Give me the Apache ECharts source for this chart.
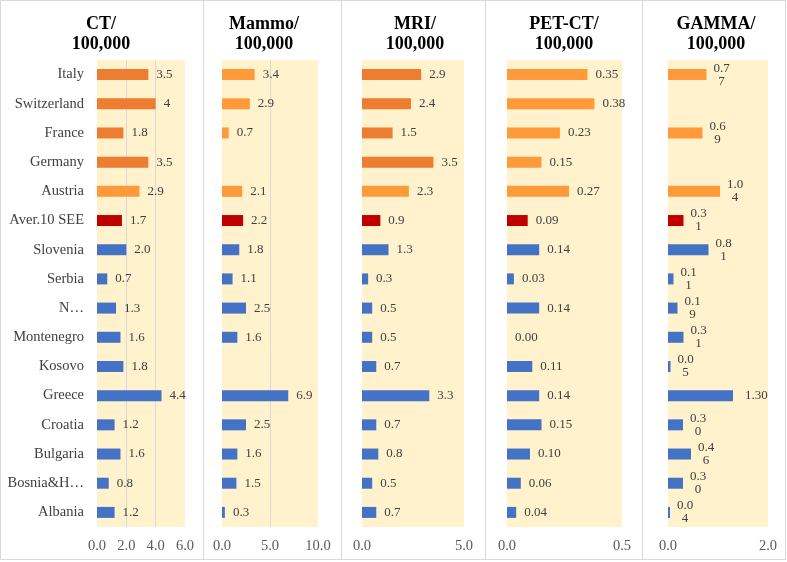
<!DOCTYPE html>
<html>
<head>
<meta charset="utf-8">
<title>Imaging equipment per 100,000</title>
<script src="https://cdn.jsdelivr.net/npm/echarts@6/dist/echarts.min.js"></script>
<style>
  html, body { margin: 0; padding: 0; background: #fff; }
  #chart { width: 787px; height: 562px; }
</style>
</head>
<body>
<div id="chart"></div>
<script>
const categories = ['Italy', 'Switzerland', 'France', 'Germany', 'Austria', 'Aver.10 SEE', 'Slovenia', 'Serbia',
    'N…', 'Montenegro', 'Kosovo', 'Greece', 'Croatia', 'Bulgaria', 'Bosnia&H…', 'Albania'];

const ctValues = [3.5, 4, 1.8, 3.5, 2.9, 1.7, 2.0, 0.7, 1.3, 1.6, 1.8, 4.4, 1.2, 1.6, 0.8, 1.2];
const ctLabels = ['3.5', '4', '1.8', '3.5', '2.9', '1.7', '2.0', '0.7', '1.3', '1.6', '1.8', '4.4', '1.2', '1.6', '0.8', '1.2'];

const mammoValues = [3.4, 2.9, 0.7, null, 2.1, 2.2, 1.8, 1.1, 2.5, 1.6, null, 6.9, 2.5, 1.6, 1.5, 0.3];
const mammoLabels = ['3.4', '2.9', '0.7', null, '2.1', '2.2', '1.8', '1.1', '2.5', '1.6', null, '6.9', '2.5', '1.6', '1.5', '0.3'];

const mriValues = [2.9, 2.4, 1.5, 3.5, 2.3, 0.9, 1.3, 0.3, 0.5, 0.5, 0.7, 3.3, 0.7, 0.8, 0.5, 0.7];
const mriLabels = ['2.9', '2.4', '1.5', '3.5', '2.3', '0.9', '1.3', '0.3', '0.5', '0.5', '0.7', '3.3', '0.7', '0.8', '0.5', '0.7'];

const petValues = [0.35, 0.38, 0.23, 0.15, 0.27, 0.09, 0.14, 0.03, 0.14, 0.00, 0.11, 0.14, 0.15, 0.10, 0.06, 0.04];
const petLabels = ['0.35', '0.38', '0.23', '0.15', '0.27', '0.09', '0.14', '0.03', '0.14', '0.00', '0.11', '0.14', '0.15', '0.10', '0.06', '0.04'];

const gammaValues = [0.77, null, 0.69, null, 1.04, 0.31, 0.81, 0.11, 0.19, 0.31, 0.05, 1.30, 0.30, 0.46, 0.30, 0.04];
const gammaLabels = ['0.77', null, '0.69', null, '1.04', '0.31', '0.81', '0.11', '0.19', '0.31', '0.05', '1.30', '0.30', '0.46', '0.30', '0.04'];

const FONT = 'Liberation Serif';
const DARK_ORANGE = '#ED7D31';
const LIGHT_ORANGE = '#FF9A3A';
const RED = '#C00000';
const BLUE = '#4472C4';

const panels = [
    { title: 'CT/\n100,000', values: ctValues, labels: ctLabels, max: 6, interval: 2, darkRows: 4, left: 97, width: 88, titleX: 96 },
    { title: 'Mammo/\n100,000', values: mammoValues, labels: mammoLabels, max: 10, interval: 5, darkRows: 0, left: 222, width: 96, titleX: 259 },
    { title: 'MRI/\n100,000', values: mriValues, labels: mriLabels, max: 5, interval: 5, darkRows: 4, left: 362, width: 102, titleX: 410 },
    { title: 'PET-CT/\n100,000', values: petValues, labels: petLabels, max: 0.5, interval: 0.5, darkRows: 0, left: 507, width: 115, titleX: 559 },
    { title: 'GAMMA/\n100,000', values: gammaValues, labels: gammaLabels, max: 2, interval: 2, darkRows: 0, left: 668, width: 100, titleX: 711, wrap: true }
];

// bar colour follows the row: western countries orange, SEE average red, SEE countries blue
function barColor(panel, i) {
    if (i === 5) return RED;
    if (i > 5) return BLUE;
    return i < panel.darkRows ? DARK_ORANGE : LIGHT_ORANGE;
}

const chart = echarts.init(document.getElementById('chart'));

const option = {
    animation: false,
    backgroundColor: '#fff',
    title: panels.map(p => ({
        text: p.title,
        left: p.titleX,
        top: 9,
        textAlign: 'center',
        textStyle: { fontFamily: FONT, fontWeight: 'bold', fontSize: 18, lineHeight: 20, color: '#000' }
    })),
    grid: panels.map(p => ({
        left: p.left,
        width: p.width,
        top: 60,
        height: 467,
        show: true,
        backgroundColor: '#FFF2CC',
        borderWidth: 0
    })),
    xAxis: panels.map((p, k) => ({
        type: 'value',
        gridIndex: k,
        min: 0,
        max: p.max,
        interval: p.interval,
        axisLine: { show: false },
        axisTick: { show: false },
        splitLine: { show: true, showMinLine: false, showMaxLine: false, lineStyle: { color: '#D9D9D9', width: 1 } },
        axisLabel: {
            margin: 12,
            fontFamily: FONT,
            fontSize: 14.5,
            color: '#595959',
            formatter: v => v.toFixed(1)
        }
    })),
    yAxis: panels.map((p, k) => ({
        type: 'category',
        gridIndex: k,
        inverse: true,
        data: categories,
        axisLine: { show: false },
        axisTick: { show: false },
        axisLabel: {
            show: k === 0,
            margin: 13,
            fontFamily: FONT,
            fontSize: 14.5,
            color: '#404040'
        }
    })),
    series: panels.map((p, k) => ({
        type: 'bar',
        xAxisIndex: k,
        yAxisIndex: k,
        barWidth: 11,
        data: p.values.map((v, i) => ({
            value: v == null ? '-' : v,
            itemStyle: { color: barColor(p, i) }
        })),
        label: {
            show: true,
            position: 'right',
            distance: p.wrap ? 6 : 8,
            fontFamily: FONT,
            fontSize: 13,
            color: '#404040',
            formatter(params) {
                const t = p.labels[params.dataIndex];
                if (t == null) return '';
                if (!p.wrap) return t;
                // narrow label boxes in the gamma panel wrap the text
                if (params.value < 1.2) return '{w|' + t.slice(0, 3) + '\n' + t.slice(3) + '}';
                return '{p|' + t + '}';
            },
            rich: {
                w: { width: 18, align: 'center', fontFamily: FONT, fontSize: 13, lineHeight: 13, color: '#404040' },
                p: { padding: [0, 0, 0, 6], fontFamily: FONT, fontSize: 13, color: '#404040' }
            }
        }
    })),
    graphic: [
        { type: 'rect', shape: { x: 0.5, y: 0.5, width: 785, height: 559 }, style: { fill: 'none', stroke: '#D9D9D9', lineWidth: 1 }, silent: true },
        ...[203, 341, 485, 642].map(x => ({
            type: 'line', shape: { x1: x + 0.5, y1: 0.5, x2: x + 0.5, y2: 559.5 },
            style: { stroke: '#D9D9D9', lineWidth: 1 }, silent: true
        }))
    ]
};

option && chart.setOption(option);
window.addEventListener('resize', chart.resize);
</script>
</body>
</html>
